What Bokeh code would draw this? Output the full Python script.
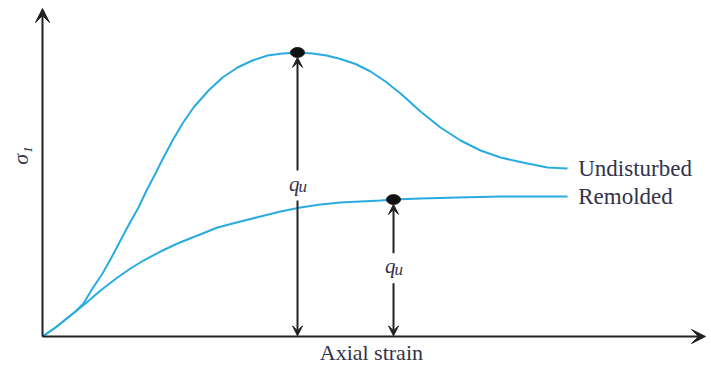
from bokeh.plotting import figure
from bokeh.models import Range1d, Arrow, VeeHead, Label
from bokeh.embed import file_html
from bokeh.resources import INLINE

# Undisturbed curve (axial strain, sigma1) in arbitrary units 0-100
und_x = [0, 1.96, 3.47, 4.98, 6.18, 7.54, 9.05, 10.41, 11.76, 13.12, 14.48, 15.69, 17.04,
         18.25, 19.61, 21.12, 22.78, 25.04, 27.15, 29.41, 31.67, 33.94, 36.20, 38.46, 40.72,
         42.84, 44.95, 47.21, 49.47, 51.73, 54.00, 57.01, 60.03, 63.05, 66.06, 69.08, 73.15,
         76.17, 79.19]
und_y = [0, 2.76, 5.21, 7.67, 10.12, 14.72, 19.33, 24.23, 29.45, 34.66, 39.57, 44.79, 50.00,
         54.91, 60.12, 65.34, 70.25, 75.46, 79.45, 82.52, 84.66, 86.20, 86.81, 87.12, 86.81,
         86.20, 85.12, 83.59, 81.29, 78.22, 74.54, 69.02, 64.11, 60.12, 57.06, 54.91, 53.07,
         51.84, 51.53]

# Remolded curve
rem_x = [0, 1.96, 3.47, 4.98, 6.49, 8.75, 11.31, 13.27, 15.23, 17.80, 20.36, 23.38, 26.40,
         29.86, 32.88, 35.90, 38.91, 41.93, 44.95, 47.96, 50.98, 52.94, 57.01, 62.59, 69.08,
         73.60, 79.19]
rem_y = [0, 2.76, 5.21, 7.67, 10.12, 14.11, 18.10, 20.86, 23.31, 26.07, 28.53, 30.98, 33.44,
         35.28, 36.81, 38.34, 39.57, 40.49, 41.10, 41.41, 41.72, 42.02, 42.33, 42.64, 42.94,
         42.94, 42.94]

# Marked peak strengths (strain, sigma1)
peak_x = [38.46, 52.94]
peak_y = [87.12, 42.02]

series_labels = ["Undisturbed", "Remolded"]
x_label = "Axial strain"
y_label = "σ₁"
peak_label = "q"
peak_sub = "u"

BLUE = "#29ABE2"
INK = "#222222"
TXT = "#33334a"
SERIF = "Liberation Serif"

p = figure(width=711, height=367, output_backend="svg", toolbar_location=None,
           x_range=Range1d(-6.335, 100.90), y_range=Range1d(-9.51, 103.07),
           min_border=0, min_border_left=0, min_border_right=0,
           min_border_top=0, min_border_bottom=0)
p.axis.visible = False
p.grid.visible = False
p.outline_line_color = None
p.background_fill_color = "white"
p.border_fill_color = "white"

# axes with arrowheads
p.add_layout(Arrow(end=VeeHead(size=14, fill_color=INK, line_color=INK, line_width=1),
                   x_start=0, y_start=0, x_end=0, y_end=100.6,
                   line_color=INK, line_width=2))
p.add_layout(Arrow(end=VeeHead(size=14, fill_color=INK, line_color=INK, line_width=1),
                   x_start=0, y_start=0, x_end=100.0, y_end=0,
                   line_color=INK, line_width=2))

# curves
p.line(und_x, und_y, line_color=BLUE, line_width=2)
p.line(rem_x, rem_y, line_color=BLUE, line_width=2)

# peak points
p.ellipse(peak_x, peak_y, width=2.1, height=3.0,
          fill_color="#111111", line_color="#111111")

# dimension arrows with labels (gap around label: low, high, mid)
gaps = [(41.7, 50.9, 46.3), (16.3, 25.5, 20.9)]
for px, py, (g_lo, g_hi, g_mid) in zip(peak_x, peak_y, gaps):
    tip = py - 1.5
    p.add_layout(Arrow(end=VeeHead(size=10, fill_color=INK, line_color=INK, line_width=1),
                       x_start=px, y_start=g_hi, x_end=px, y_end=tip,
                       line_color=INK, line_width=2))
    p.add_layout(Arrow(end=VeeHead(size=10, fill_color=INK, line_color=INK, line_width=1),
                       x_start=px, y_start=g_lo, x_end=px, y_end=0.2,
                       line_color=INK, line_width=2))
    p.add_layout(Label(x=px, y=g_mid, text=peak_label, text_font=SERIF,
                       text_font_style="italic", text_font_size="21px", text_color=TXT,
                       text_align="right", text_baseline="middle", x_offset=2, y_offset=2))
    p.add_layout(Label(x=px, y=g_mid, text=peak_sub, text_font=SERIF,
                       text_font_style="italic", text_font_size="17px", text_color=TXT,
                       text_align="left", text_baseline="middle", x_offset=1, y_offset=-1))

# series labels at right
p.add_layout(Label(x=80.8, y=und_y[-1], text=series_labels[0], text_font=SERIF,
                   text_font_size="23px", text_color=TXT, text_baseline="middle"))
p.add_layout(Label(x=80.8, y=rem_y[-1], text=series_labels[1], text_font=SERIF,
                   text_font_size="23px", text_color=TXT, text_baseline="middle"))

# axis titles
p.add_layout(Label(x=49.6, y=-4.9, text=x_label, text_font=SERIF, text_font_size="22px",
                   text_color=TXT, text_align="center", text_baseline="middle"))
p.add_layout(Label(x=-3.3, y=55.5, text=y_label, text_font=SERIF, text_font_style="italic",
                   text_font_size="22px", text_color=TXT, text_align="center",
                   text_baseline="middle", angle=1.5708))

open("out.html", "w").write(file_html(p, INLINE))
